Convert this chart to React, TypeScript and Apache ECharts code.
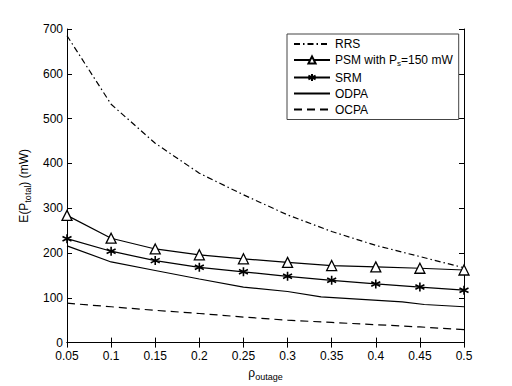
import React, { useEffect, useRef } from "react";
import * as echarts from "echarts";

const xValues = [0.05, 0.1, 0.15, 0.2, 0.25, 0.3, 0.35, 0.4, 0.45, 0.5];
const rrs = [685, 532, 445, 378, 330, 285, 248, 217, 192, 167];
const psm = [284, 233, 209, 196, 187, 179, 172, 169, 166, 162];
const srm = [232, 204, 183, 168, 158, 148, 139, 131, 124, 117];
const odpaX = [0.05, 0.1, 0.15, 0.2, 0.25, 0.3, 0.338, 0.43, 0.455, 0.5];
const odpa = [216, 180, 161, 142, 124, 114, 102, 91, 85, 80];
const ocpa = [88, 80, 72, 65, 57, 50, 45, 40, 35, 29];

const seriesNames = ["RRS", "PSM", "SRM", "ODPA", "OCPA"];
const noSymbol = ["RRS", "ODPA", "OCPA"];
const FONT = "'Liberation Sans', Arial, Helvetica, sans-serif";

const pairs = (xs: number[], ys: number[]) => ys.map((y, i) => [xs[i], y]);

const ASTERISK = "path://M5,0L5,10M0.67,2.5L9.33,7.5M0.67,7.5L9.33,2.5";

export default function App() {
  const ref = useRef<HTMLDivElement>(null);
  useEffect(() => {
    if (!ref.current) return;
    const chart = echarts.init(ref.current, undefined, { renderer: "svg" });
    const axisCommon = {
      axisLine: { show: true, lineStyle: { color: "#000", width: 1 } },
      axisTick: { show: true, inside: true, length: 5, lineStyle: { color: "#000" } },
      splitLine: { show: false },
    };
    const xFmt = (v: number) => String(+v.toFixed(2));
    const lw = 1.2;
    chart.setOption({
      animation: false,
      backgroundColor: "#fff",
      textStyle: { fontFamily: FONT },
      grid: { left: 67, top: 29, right: 48, bottom: 43, containLabel: false },
      legend: {
        orient: "vertical",
        left: 287,
        top: 34,
        width: 176,
        padding: [4, 6, 4, 6],
        itemWidth: 36,
        itemHeight: 9,
        itemGap: 4,
        itemTextGap: 4,
        borderColor: "#444",
        borderWidth: 1,
        backgroundColor: "#fff",
        data: seriesNames.map((n) =>
          noSymbol.includes(n)
            ? { name: n, itemStyle: { opacity: 0 } }
            : { name: n }
        ),
        textStyle: {
          fontFamily: FONT,
          fontSize: 12,
          color: "#000",
          rich: {
            a: { fontFamily: FONT, fontSize: 12, color: "#000" },
            sub: { fontFamily: FONT, fontSize: 8, color: "#000", padding: [7, 0, 0, 0] },
          },
        },
        formatter: (name: string) =>
          name === "PSM" ? "{a|PSM with P}{sub|s}{a|=150 mW}" : "{a|" + name + "}",
      },
      xAxis: [
        {
          type: "value",
          min: 0.05,
          max: 0.5,
          interval: 0.05,
          ...axisCommon,
          axisLabel: {
            formatter: xFmt,
            fontSize: 12,
            lineHeight: 12,
            color: "#000",
            margin: 7,
            fontFamily: FONT,
          },
          name: "{a|ρ}{sub|outage}",
          nameLocation: "middle",
          nameGap: 21,
          nameTextStyle: {
            rich: {
              a: { fontFamily: FONT, fontSize: 12, color: "#000" },
              sub: { fontFamily: FONT, fontSize: 9, color: "#000", padding: [8, 0, 0, 0] },
            },
          },
        },
        {
          type: "value",
          position: "top",
          min: 0.05,
          max: 0.5,
          interval: 0.05,
          ...axisCommon,
          axisLabel: { show: false },
        },
      ],
      yAxis: [
        {
          type: "value",
          min: 0,
          max: 700,
          interval: 100,
          ...axisCommon,
          axisLabel: {
            fontSize: 12,
            lineHeight: 10,
            color: "#000",
            margin: 4,
            fontFamily: FONT,
          },
          name: "{a|E(P}{sub|total}{a|) (mW)}",
          nameLocation: "middle",
          nameRotate: 90,
          nameGap: 33,
          nameTextStyle: {
            rich: {
              a: { fontFamily: FONT, fontSize: 12, color: "#000" },
              sub: { fontFamily: FONT, fontSize: 9, color: "#000", padding: [8, 0, 0, 0] },
            },
          },
        },
        {
          type: "value",
          position: "right",
          min: 0,
          max: 700,
          interval: 100,
          ...axisCommon,
          axisLabel: { show: false },
        },
      ],
      series: [
        {
          name: "RRS",
          type: "line",
          data: pairs(xValues, rrs),
          symbol: "none",
          lineStyle: { color: "#000", width: lw, type: [6, 3, 1.5, 3] },
          itemStyle: { color: "#000" },
        },
        {
          name: "PSM",
          type: "line",
          data: pairs(xValues, psm),
          symbol: "triangle",
          symbolSize: 10,
          lineStyle: { color: "#000", width: lw, type: "solid" },
          itemStyle: { color: "#fff", borderColor: "#000", borderWidth: 1.3 },
        },
        {
          name: "SRM",
          type: "line",
          data: pairs(xValues, srm),
          symbol: ASTERISK,
          symbolSize: 9,
          lineStyle: { color: "#000", width: lw, type: "solid" },
          itemStyle: { color: "#000", borderColor: "#000", borderWidth: 1.6 },
        },
        {
          name: "ODPA",
          type: "line",
          data: pairs(odpaX, odpa),
          symbol: "none",
          lineStyle: { color: "#000", width: lw, type: "solid" },
          itemStyle: { color: "#000" },
        },
        {
          name: "OCPA",
          type: "line",
          data: pairs(xValues, ocpa),
          symbol: "none",
          lineStyle: { color: "#000", width: lw, type: [8, 5] },
          itemStyle: { color: "#000" },
        },
      ],
    });
    return () => chart.dispose();
  }, []);
  return (
    <div
      ref={ref}
      style={{ position: "fixed", left: 0, top: 0, width: 512, height: 386 }}
    />
  );
}
